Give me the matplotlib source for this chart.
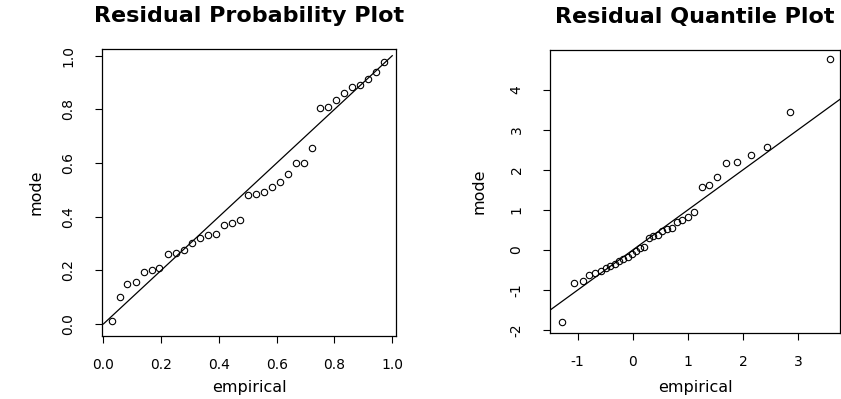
import matplotlib
matplotlib.use('Agg')
import matplotlib.pyplot as plt

# empirical plotting positions (probability scale)
prob_emp = [0.028, 0.056, 0.083, 0.111, 0.139, 0.167, 0.194, 0.222, 0.250, 0.278,
            0.306, 0.333, 0.361, 0.389, 0.417, 0.444, 0.472, 0.500, 0.528, 0.556,
            0.583, 0.611, 0.639, 0.667, 0.694, 0.722, 0.750, 0.778, 0.806, 0.833,
            0.861, 0.889, 0.917, 0.944, 0.972]
prob_model = [0.010, 0.100, 0.150, 0.155, 0.195, 0.200, 0.210, 0.260, 0.265, 0.275,
              0.300, 0.320, 0.330, 0.335, 0.367, 0.375, 0.386, 0.480, 0.485, 0.490,
              0.510, 0.528, 0.560, 0.600, 0.600, 0.655, 0.805, 0.810, 0.835, 0.860,
              0.884, 0.890, 0.915, 0.940, 0.975]

# right panel: gumbel scale quantiles
quant_emp = [-1.28, -1.06, -0.91, -0.79, -0.68, -0.58, -0.49, -0.41, -0.33, -0.25,
             -0.17, -0.09, -0.02, 0.06, 0.13, 0.21, 0.29, 0.37, 0.45, 0.53,
             0.62, 0.71, 0.80, 0.90, 1.01, 1.12, 1.25, 1.38, 1.53, 1.70,
             1.90, 2.14, 2.44, 2.86, 3.57]
quant_model = [-1.80, -0.82, -0.78, -0.62, -0.58, -0.52, -0.45, -0.40, -0.35, -0.28,
               -0.22, -0.18, -0.10, -0.02, 0.05, 0.08, 0.30, 0.34, 0.37, 0.48,
               0.52, 0.56, 0.70, 0.75, 0.82, 0.95, 1.57, 1.62, 1.82, 2.17,
               2.20, 2.37, 2.57, 3.44, 4.76]

plt.rcParams['font.family'] = ['DejaVu Sans']
plt.rcParams['axes.unicode_minus'] = False

fig = plt.figure(figsize=(8.41, 3.99), dpi=100)
ax1 = fig.add_axes([102/841, 1 - 336/399, 294/841, 287/399])
ax2 = fig.add_axes([550/841, 1 - 333/399, 290/841, 283/399])

def style(ax, title):
    for s in ax.spines.values():
        s.set_linewidth(0.9)
        s.set_color('black')
    ax.tick_params(direction='out', length=5, width=0.8, labelsize=10)
    ax.tick_params(axis='x', pad=11)
    ax.tick_params(axis='y', pad=14)
    for lab in ax.get_yticklabels():
        lab.set_rotation(90)
        lab.set_va('center')
    ax.set_xlabel('empirical', fontsize=11.5)
    ax.set_ylabel('mode', fontsize=11.5)
    ax.set_title(title, fontsize=16, fontweight='bold', y=1.065)

# probability plot
ax1.plot(prob_emp, prob_model, 'o', mfc='none', mec='black', ms=4.6, mew=0.8)
ax1.plot([0, 1], [0, 1], color='black', lw=0.9)
ax1.set_xlim(-0.005, 1.013)
ax1.set_ylim(-0.045, 1.025)
ax1.set_xticks([0.0, 0.2, 0.4, 0.6, 0.8, 1.0])
ax1.set_yticks([0.0, 0.2, 0.4, 0.6, 0.8, 1.0])
ax1.set_xticklabels(['0.0', '0.2', '0.4', '0.6', '0.8', '1.0'])
ax1.set_yticklabels(['0.0', '0.2', '0.4', '0.6', '0.8', '1.0'])
style(ax1, 'Residual Probability Plot')
ax1.yaxis.set_label_coords(-0.20, 0.5)
ax1.xaxis.set_label_coords(0.5, -0.155)

# quantile plot
ax2.plot(quant_emp, quant_model, 'o', mfc='none', mec='black', ms=4.6, mew=0.8)
ax2.plot([-1.6, 3.9], [-1.6, 3.9], color='black', lw=0.9)
ax2.set_xlim(-1.50, 3.76)
ax2.set_ylim(-2.07, 4.99)
ax2.set_xticks([-1, 0, 1, 2, 3])
ax2.set_yticks([-2, -1, 0, 1, 2, 3, 4])
style(ax2, 'Residual Quantile Plot')
ax2.yaxis.set_label_coords(-0.22, 0.5)
ax2.xaxis.set_label_coords(0.5, -0.165)

fig.savefig('out.png', dpi=100)
